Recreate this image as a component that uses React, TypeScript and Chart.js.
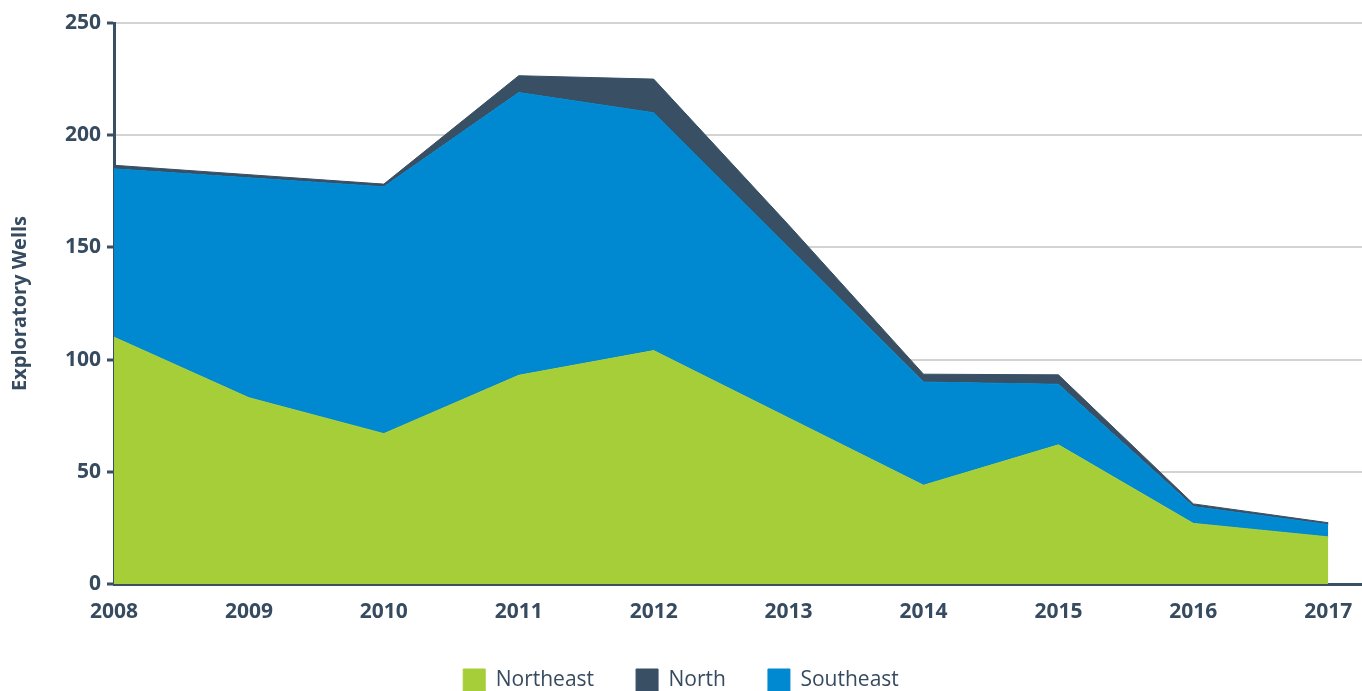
import React, { useEffect, useRef } from "react";
import { Chart, registerables } from "chart.js";

Chart.register(...registerables);

const years = [2008, 2009, 2010, 2011, 2012, 2013, 2014, 2015, 2016, 2017];
const northeast = [110, 83, 67, 93, 104, 74, 44, 62, 27, 21];
const southeast = [75, 98, 110, 126, 106, 76, 46, 27, 7.5, 5.5];
const north = [1.6, 1.4, 1.2, 7.5, 15, 10, 3.5, 4.2, 1.2, 0.8];
const yTicks = [0, 50, 100, 150, 200, 250];

const GREEN = "#a6ce39";
const BLUE = "#0089d1";
const DARK = "#384f64";
const TEXT = "#364b5f";
const FONT = "'Open Sans', sans-serif";

const legendOrder: Record<number, number> = { 0: 0, 2: 1, 1: 2 };

export default function App() {
  const ref = useRef<HTMLCanvasElement | null>(null);
  useEffect(() => {
    if (!ref.current) return;
    const mk = (vals: number[]) => years.map((y, i) => ({ x: y, y: vals[i] }));
    const chart = new Chart(ref.current, {
      type: "line",
      data: {
        datasets: [
          { label: "Northeast", data: mk(northeast), backgroundColor: GREEN, borderColor: GREEN, borderWidth: 1, fill: "origin", pointRadius: 0, tension: 0 },
          { label: "Southeast", data: mk(southeast), backgroundColor: BLUE, borderColor: BLUE, borderWidth: 1, fill: "-1", pointRadius: 0, tension: 0 },
          { label: "North", data: mk(north), backgroundColor: DARK, borderColor: DARK, borderWidth: 1, fill: "-1", pointRadius: 0, tension: 0 },
        ],
      },
      options: {
        responsive: false,
        animation: false,
        layout: { padding: { top: 23, right: 0, left: 0, bottom: 0 } },
        plugins: {
          tooltip: { enabled: false },
          legend: {
            position: "bottom",
            labels: {
              boxWidth: 22,
              boxHeight: 22,
              padding: 42,
              color: TEXT,
              font: { family: FONT, size: 21 },
              sort: (a: any, b: any) => legendOrder[a.datasetIndex] - legendOrder[b.datasetIndex],
            },
          },
        },
        scales: {
          x: {
            type: "linear",
            min: 2008,
            max: 2017.25,
            afterBuildTicks: (s: any) => {
              s.ticks = years.map((v) => ({ value: v }));
            },
            afterFit: (s: any) => {
              s.height = 43;
            },
            grid: { display: false },
            border: { display: true, color: DARK, width: 3 },
            ticks: {
              color: TEXT,
              font: { family: FONT, size: 21, weight: "bold" },
              padding: 7,
              maxRotation: 0,
              autoSkip: false,
              callback: (v: any) => String(v),
            },
          },
          y: {
            stacked: true,
            min: 0,
            max: 250,
            afterBuildTicks: (s: any) => {
              s.ticks = yTicks.map((v) => ({ value: v }));
            },
            afterFit: (s: any) => {
              s.width = 114;
            },
            grid: { color: "#d3d3d3", lineWidth: 2, tickColor: DARK, tickLength: 7, tickWidth: 3 },
            border: { display: true, color: DARK, width: 3 },
            ticks: {
              color: TEXT,
              font: { family: FONT, size: 21, weight: "bold" },
              padding: 6,
            },
            title: {
              display: true,
              text: "Exploratory Wells",
              color: TEXT,
              font: { family: FONT, size: 20, weight: "bold" },
              padding: { top: 8, bottom: 10 },
            },
          },
        },
      },
    });
    return () => chart.destroy();
  }, []);
  return (
    <div style={{ position: "fixed", left: 0, top: 0, width: 1362, height: 691, overflow: "hidden", background: "#fff" }}>
      <canvas ref={ref} width={1362} height={701} style={{ display: "block" }} />
    </div>
  );
}
